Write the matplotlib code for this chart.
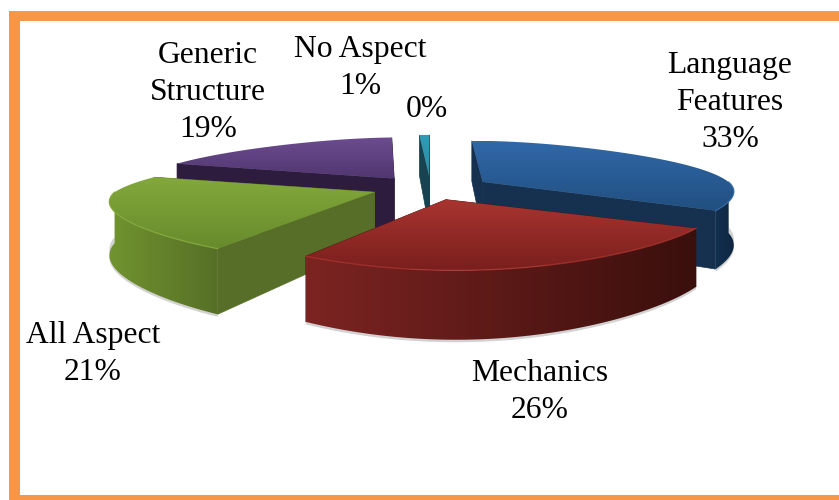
import matplotlib
matplotlib.use("Agg")

import matplotlib.pyplot as plt
import numpy as np
from matplotlib.colors import to_rgb
from matplotlib.patches import Polygon, Rectangle

# -----------------------------------------------------------------------------
# Data
# -----------------------------------------------------------------------------

CATEGORIES = ["Language\nFeatures", "Mechanics", "All Aspect", "Generic\nStructure", "No Aspect", ""]
VALUES = [33, 26, 21, 19, 1, 0]

# -----------------------------------------------------------------------------
# Configuration
# -----------------------------------------------------------------------------

WIDTH, HEIGHT = 839, 500
FONT = "Liberation Serif"
FONT_SIZE = 22.8
BORDER = "#F79646"

# top start, top end, cut face, wall left, wall right
COLORS = [
    ("#3068A8", "#214F80", "#16304F", "#12304F", "#0F2540"),
    ("#A93430", "#7A1F1D", "#4A1412", "#7C2422", "#3A0F0C"),
    ("#83A83B", "#678B2C", "#566E27", "#71942F", "#566F26"),
    ("#6C4C90", "#50366F", "#2E1C3E", "#2E1C3E", "#2E1C3E"),
    ("#2F9CB8", "#2B8CA6", "#16434F", "#16434F", "#16434F"),
    ("#2F9CB8", "#2B8CA6", "#16434F", "#16434F", "#16434F"),
]
# centre x and first baseline of each label
LABEL_POS = [(730, 73), (540, 381), (93, 343), (208, 63), (360, 57), (427, 117)]
LINE_STEP = 37

# sideways nudge of each slice's front rim, the apex stays put
RIM_SHIFT = [-7, 10, -7, 0, 0, 0]

CENTER_X, CENTER_Y = 431, 188
EXPLODE = 60
EXPLODE_TILT = 0.2
RADIUS_Y = 52
PERSPECTIVE = 0.265
WALL = 51


# -----------------------------------------------------------------------------
# Helpers
# -----------------------------------------------------------------------------


def radius_x(py):
    # pie gets narrower towards the back
    return 232 - 63.8 * (py - 0.3) - 32.4 * (py - 0.3) * (py + 0.17)


def project(angle, offset, shift, z=0.0):
    """Rim point at clockwise angle from the top, in image pixels."""
    px = np.sin(angle)
    py = np.cos(angle)
    wy = 1 + PERSPECTIVE * py
    wo = np.where(py > 0, wy, 1.0)
    x = CENTER_X + offset[0] / wo + radius_x(py) * px + shift * np.clip(1 - py, 0, 1)
    y = CENTER_Y + offset[1] - RADIUS_Y * py / wy + z * WALL / wy
    return x, y


def fill_gradient(ax, xs, ys, c0, c1, vertical, zorder):
    pts = np.column_stack([xs, ys])
    patch = Polygon(pts, closed=True, facecolor="none", edgecolor="none", zorder=zorder)
    ax.add_patch(patch)
    t = np.linspace(0, 1, 128)
    ramp = np.outer(1 - t, to_rgb(c0)) + np.outer(t, to_rgb(c1))
    img = ramp[:, None, :] if vertical else ramp[None, :, :]
    extent = (xs.min(), xs.max(), ys.max(), ys.min())
    im = ax.imshow(img, extent=extent, aspect="auto", zorder=zorder, interpolation="bilinear")
    im.set_clip_path(patch)


def draw_slice(ax, a0, a1, offset, shift, cols, zorder):
    top0, top1, cut, wall0, wall1 = cols
    angles = np.linspace(a0, a1, 80)
    ax_, ay_ = CENTER_X + offset[0], CENTER_Y + offset[1]
    apex_wall = ay_ + WALL

    # soft shadow under the front of the slice
    front = angles[np.cos(angles) < 0.0]
    if len(front) > 1:
        fx, fy = project(front, offset, shift, 1.0)
        ax.fill(
            np.r_[fx, fx[::-1]], np.r_[fy + 2.5, fy[::-1] - 6],
            color="#D2D2D2", lw=0, zorder=zorder,
        )

    # both cut faces
    for a in (a0, a1):
        rx, ry = project(a, offset, shift)
        bx, by = project(a, offset, shift, 1.0)
        face = [(ax_, ay_), (rx, ry), (bx, by), (ax_, apex_wall)]
        ax.add_patch(Polygon(face, closed=True, facecolor=cut, edgecolor=cut, lw=0.5, zorder=zorder + 1))

    # outer wall, only where it faces the viewer
    if len(front) > 1:
        tx, ty = project(front, offset, shift)
        bx, by = project(front, offset, shift, 1.0)
        fill_gradient(ax, np.r_[tx, bx[::-1]], np.r_[ty, by[::-1]], wall0, wall1, False, zorder + 2)

    # top surface
    rx, ry = project(angles, offset, shift)
    fill_gradient(ax, np.r_[ax_, rx], np.r_[ay_, ry], top0, top1, True, zorder + 3)
    if len(front) > 1:
        tx, ty = project(front, offset, shift)
        ax.plot(tx, ty, color=top0, lw=1.0, alpha=0.8, zorder=zorder + 4)


# -----------------------------------------------------------------------------
# Plot
# -----------------------------------------------------------------------------


def plot():
    fig = plt.figure(figsize=(WIDTH / 100, HEIGHT / 100), dpi=100)
    ax = fig.add_axes([0, 0, 1, 1])

    # orange frame, open on the right where the picture is cut off
    ax.add_patch(Rectangle((9, 11), 840, 500, facecolor=BORDER, edgecolor="none", zorder=0))
    ax.add_patch(Rectangle((20, 21), 830, 474, facecolor="white", edgecolor="none", zorder=1))

    edges = np.r_[0, np.cumsum(VALUES)] / np.sum(VALUES) * 2 * np.pi
    mids = (edges[:-1] + edges[1:]) / 2

    # back slices first, so the front ones cover them
    order = np.argsort(-np.cos(mids))
    zorder = 2
    for i in order:
        if VALUES[i] == 0:
            continue
        offset = (EXPLODE * np.sin(mids[i]), -EXPLODE * EXPLODE_TILT * np.cos(mids[i]))
        draw_slice(ax, edges[i], edges[i + 1], offset, RIM_SHIFT[i], COLORS[i], zorder)
        zorder += 5

    for name, val, (x, y) in zip(CATEGORIES, VALUES, LABEL_POS):
        lines = name.split("\n") + [f"{val}%"] if name else [f"{val}%"]
        for k, line in enumerate(lines):
            ax.text(
                x, y + k * LINE_STEP, line,
                ha="center", va="baseline", family=FONT, fontsize=FONT_SIZE,
                color="black", zorder=100,
            )

    ax.set_xlim(0, WIDTH)
    ax.set_ylim(HEIGHT, 0)
    ax.axis("off")

    fig.savefig("out.png", dpi=100)
    plt.close(fig)


if __name__ == "__main__":
    plot()
